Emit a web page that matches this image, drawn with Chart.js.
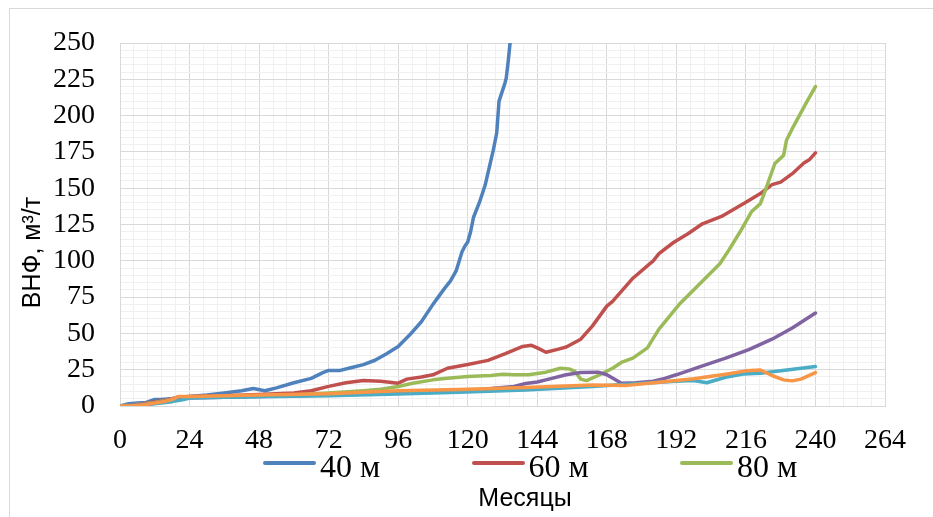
<!DOCTYPE html>
<html lang="ru">
<head>
    <meta charset="UTF-8">
    <title>ВНФ по месяцам</title>
    <script src="https://cdn.jsdelivr.net/npm/chart.js"></script>
    <style>
        * { margin: 0; padding: 0; box-sizing: border-box; }
        body {
            background: #fff;
            width: 933px;
            height: 517px;
            overflow: hidden;
            position: relative;
        }
        .frame {
            position: absolute;
            left: 9px;
            top: 8px;
            width: 950px;
            height: 530px;
            border: 1px solid #d9d9d9;
        }
        #chart { position: absolute; left: 0; top: 0; }
        #legend {
            position: absolute;
            left: 263px;
            top: 448px;
            display: flex;
            font-family: "Liberation Serif", serif;
            font-size: 32px;
            line-height: 36px;
            color: #000;
        }
        .item { width: 208.5px; display: flex; align-items: center; }
        .swatch {
            width: 53px;
            height: 4px;
            border-radius: 2px;
            margin-right: 4px;
            position: relative;
            top: -3px;
        }
    </style>
</head>
<body>
    <div class="frame"></div>
    <canvas id="chart" width="933" height="517"></canvas>
    <div id="legend"></div>

    <script>
        const names = ['40 м', '60 м', '80 м', '100 м', '120 м', '140 м'];
        const colors = ['#4F81BD', '#C0504D', '#9BBB59', '#8064A2', '#4BACC6', '#F79646'];
        const xTitle = 'Месяцы';
        const yTitle = 'ВНФ, м³/т';

        // months / values, one pair per series
        const m40 = [0, 3, 6, 9, 12, 14, 18, 21, 24, 30, 36, 42, 46, 50, 54, 60, 66, 70, 72, 76, 80, 84, 88, 92, 96, 100, 104, 108, 112, 114, 116, 118, 119, 120, 121, 122, 124, 126, 128.8, 130, 130.8, 132.8, 133.3, 134, 134.6, 135.5];
        const v40 = [0, 1.5, 2, 2.5, 4.5, 4.5, 5, 6, 6.5, 7.5, 9, 10.5, 12, 10.5, 12.5, 16, 19, 23, 24.5, 24.5, 26.5, 28.5, 31.5, 36, 41, 49, 58, 70, 81, 86, 93, 106, 110, 113, 120, 130, 140, 152, 176, 188, 210, 222, 226, 238, 250, 265];

        const m60 = [0, 6, 12, 18, 20, 24, 36, 48, 54, 60, 66, 72, 78, 84, 90, 96, 99, 104, 108, 113, 120, 127, 133, 139, 142, 144, 147, 151, 154, 159, 163, 168, 170, 177, 184, 186, 191, 196, 201, 208, 216, 221, 225, 228, 232, 236, 238, 240];
        const v60 = [0, 1, 3, 5, 6, 6.5, 7, 8, 8.5, 9, 10.5, 13.5, 16, 17.5, 17, 15.7, 18.5, 20, 21.5, 26, 28.6, 31.4, 36, 41, 41.8, 40, 37, 39, 40.6, 46, 55, 68.8, 72, 88, 100, 105, 112.6, 118.6, 125.5, 131, 140.3, 146.3, 152.5, 154.2, 160, 167.3, 169.8, 174.3];

        const m80 = [0, 12, 20, 24, 36, 48, 60, 72, 84, 90, 96, 101, 108, 113, 120, 128, 132, 136, 141, 147, 152, 155, 157, 159, 161, 165, 170, 173, 177, 182, 186, 193, 200, 207, 210, 214, 218, 221, 222.6, 226, 229, 230, 232, 237, 240];
        const v80 = [0, 2.5, 5.5, 6, 6.5, 7, 7.5, 9, 10.5, 11.5, 13.4, 15.7, 18, 19.1, 20.3, 21, 21.9, 21.5, 21.5, 23.3, 26, 25.5, 23.8, 18.5, 17.5, 21, 26, 30, 33, 40, 53, 70, 84, 98, 107, 120, 134, 139.4, 148, 167, 172.6, 183, 191, 209.5, 220];

        const m100 = [0, 12, 20, 24, 48, 72, 96, 110, 117, 124, 129, 136, 140, 144, 149, 154, 159, 165, 168, 171, 173, 178, 184, 188, 192, 200, 209, 217, 225, 232, 240];
        const v100 = [0, 2, 5.5, 5.5, 6.5, 7.5, 9, 9.5, 9.9, 10.8, 12.2, 13.5, 15.5, 16.5, 19, 21.5, 23, 23.3, 21.5, 18, 15.7, 16, 17, 19, 21.5, 27, 33, 38.8, 46, 53.7, 64];

        const m120 = [0, 8, 12, 18, 22, 24, 36, 48, 72, 96, 117, 140, 163, 175, 192, 198, 202.5, 209, 215, 221, 240];
        const v120 = [0, 0.5, 1.5, 3, 4.5, 5.5, 6, 6.3, 7, 8.3, 9.4, 11, 13.4, 15, 17, 17.5, 16, 19.8, 22, 22.6, 27.2];

        const m140 = [0, 4, 8, 12, 16, 18, 20, 24, 36, 48, 72, 96, 117, 140, 163, 175, 186, 198, 209, 216, 221, 225, 229, 232, 235, 240];
        const v140 = [0, 0.2, 0.8, 2, 3.5, 4.5, 6.5, 6.5, 7, 7.5, 8.5, 10.5, 11.3, 12.7, 14.5, 14.2, 16.3, 18.7, 21.9, 24.2, 24.8, 21, 18, 17.3, 18.5, 23];

        const series = [[m40, v40], [m60, v60], [m80, v80], [m100, v100], [m120, v120], [m140, v140]];

        const isMajor = (v, step) => Math.abs(v / step - Math.round(v / step)) < 1e-6;

        const datasets = series.map(([mx, vy], i) => ({
            label: names[i],
            data: mx.map((m, k) => ({ x: m, y: vy[k] })),
            borderColor: colors[i],
            backgroundColor: colors[i],
            order: series.length - i   // later series drawn on top, like Excel
        }));

        // axis titles sit a bit off-centre in the original, so draw them by hand
        const axisTitles = {
            id: 'axisTitles',
            afterDraw(chart) {
                const { ctx, chartArea } = chart;
                ctx.save();
                ctx.fillStyle = '#000';
                ctx.font = '25px "Liberation Sans"';
                ctx.textAlign = 'center';
                ctx.textBaseline = 'middle';
                ctx.fillText(xTitle, chartArea.left + 405, 499);
                ctx.translate(33, (chartArea.top + chartArea.bottom) / 2 + 28);
                ctx.rotate(-Math.PI / 2);
                ctx.fillText(yTitle, 0, 0);
                ctx.restore();
            }
        };

        const tickFont = { family: '"Liberation Serif"', size: 28 };

        const chart = new Chart(document.getElementById('chart'), {
            type: 'line',
            data: { datasets: datasets },
            plugins: [axisTitles],
            options: {
                responsive: false,
                animation: false,
                layout: { padding: { top: 43, right: 48, bottom: 61, left: 0 } },
                plugins: {
                    legend: { display: false },
                    tooltip: { enabled: false }
                },
                elements: {
                    point: { radius: 0 },
                    line: { borderWidth: 3.5, tension: 0, borderCapStyle: 'round', borderJoinStyle: 'round' }
                },
                scales: {
                    x: {
                        type: 'linear',
                        min: 0,
                        max: 264,
                        afterFit(scale) { scale.height = 50; },
                        ticks: {
                            stepSize: 4.8,
                            maxTicksLimit: 100,
                            autoSkip: false,
                            maxRotation: 0,
                            padding: 18,
                            color: '#000',
                            font: tickFont,
                            callback: v => isMajor(v, 24) ? Math.round(v) : ''
                        },
                        grid: {
                            drawTicks: false,
                            color: ctx => isMajor(ctx.tick.value, 24) ? '#d9d9d9' : '#f0f0f0'
                        },
                        border: { color: '#d9d9d9' }
                    },
                    y: {
                        min: 0,
                        max: 250,
                        afterFit(scale) { scale.width = 120; },
                        ticks: {
                            stepSize: 5,
                            maxTicksLimit: 100,
                            autoSkip: false,
                            padding: 25,
                            color: '#000',
                            font: tickFont,
                            callback: v => isMajor(v, 25) ? Math.round(v) : ''
                        },
                        grid: {
                            drawTicks: false,
                            color: ctx => isMajor(ctx.tick.value, 25) ? '#d9d9d9' : '#f0f0f0'
                        },
                        border: { color: '#d9d9d9' }
                    }
                }
            }
        });

        // only the first legend row is visible in the original
        const legend = document.getElementById('legend');
        chart.data.datasets.slice(0, 3).forEach(ds => {
            const item = document.createElement('div');
            item.className = 'item';
            item.innerHTML = '<span class="swatch" style="background:' + ds.borderColor + '"></span><span>' + ds.label + '</span>';
            legend.appendChild(item);
        });
    </script>
</body>
</html>
